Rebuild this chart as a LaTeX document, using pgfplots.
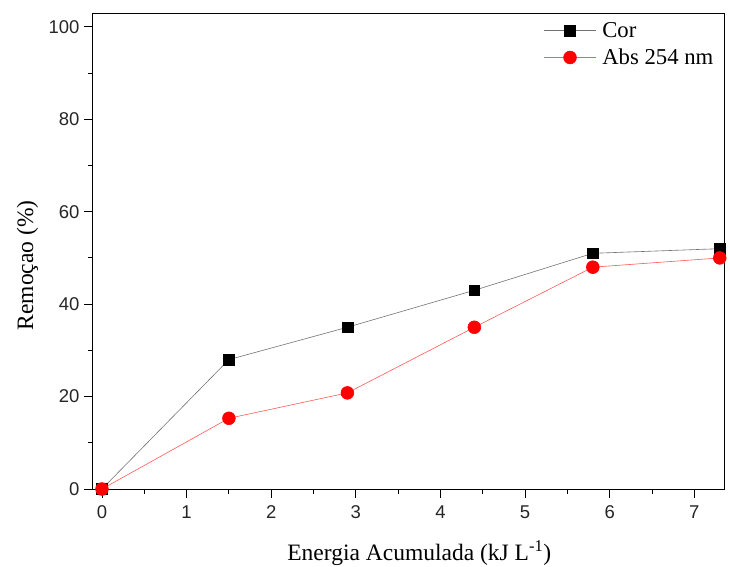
\documentclass[border=0pt]{standalone}
\usepackage{fontspec}
\setmainfont{Liberation Serif}
\newfontfamily\ticksans{Liberation Sans}
\usepackage{pgfplots}
\pgfplotsset{compat=1.18}

\begin{document}
\begin{tikzpicture}
  \begin{axis}[
      scale only axis,
      width=631pt, height=476pt,
      xmin=-0.106, xmax=7.35,
      ymin=0, ymax=103,
      xtick={0,1,...,7},
      ytick={0,20,...,100},
      minor x tick num=1,
      minor y tick num=1,
      tick align=outside,
      tick pos=left,
      major tick length=9pt,
      minor tick length=5pt,
      tick style={black, line width=0.9pt},
      axis line style={line width=1pt},
      /pgf/number format/assume math mode=true,
      tick label style={font=\fontsize{18.5}{21}\selectfont\ticksans, text=black!85},
      xticklabel style={yshift=-4pt},
      yticklabel style={xshift=-1pt},
      xlabel={Energia Acumulada (kJ L\textsuperscript{-1})},
      ylabel={Remoçao (\%)},
      label style={font=\fontsize{23.5}{26}\selectfont},
      xlabel style={at={(axis description cs:0.517,-0.151)}, anchor=base},
      ylabel style={at={(axis description cs:-0.095,0.47)}, anchor=base},
      legend style={
        at={(axis description cs:0.714,0.985)}, anchor=north west,
        draw=none, fill=none, inner sep=0pt,
        font=\fontsize{22.7}{25}\selectfont,
        row sep=6pt,
      },
      legend cell align=left,
      legend image code/.code={
        \draw[#1, mark repeat=2, mark phase=2]
          plot coordinates {(0pt,0pt) (26pt,0pt) (52pt,0pt)};
      },
    ]

    % Cor
    \addplot[black!55, line width=0.6pt, mark=square*,
      mark options={black, fill=black, scale=2.7}] coordinates {
      (0, 0)
      (1.5, 28)
      (2.9, 35)
      (4.4, 43)
      (5.8, 51)
      (7.3, 52)
    };

    % Abs 254 nm
    \addplot[red!65!white, line width=0.6pt, mark=*,
      mark options={red, fill=red, scale=3.2}] coordinates {
      (0, 0)
      (1.5, 15.3)
      (2.9, 20.8)
      (4.4, 35)
      (5.8, 48)
      (7.3, 50)
    };

    \legend{\hspace{4pt}Cor, \hspace{4pt}Abs 254 nm}

    \coordinate (sw) at (rel axis cs:0,0);
  \end{axis}
  \pgfresetboundingbox
  \path[use as bounding box] (sw) ++(-93pt,-77pt) rectangle ++(730pt,566pt);
\end{tikzpicture}
\end{document}
